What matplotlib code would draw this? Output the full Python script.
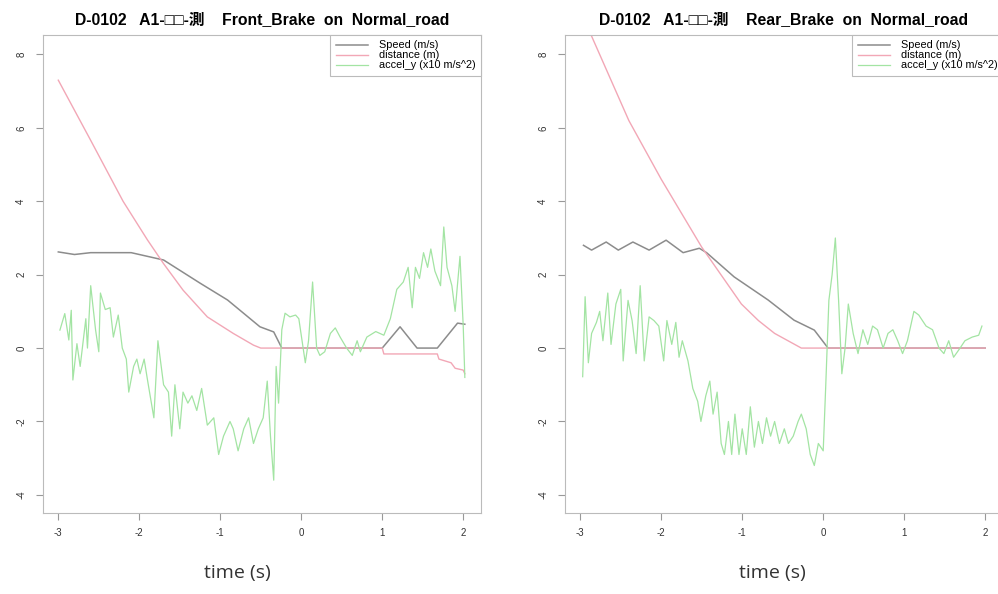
import matplotlib
matplotlib.use("Agg")
import matplotlib.pyplot as plt

plt.rcParams['font.family'] = ['Liberation Sans', 'DejaVu Sans', 'Noto Sans CJK JP']
plt.rcParams['axes.unicode_minus'] = False

titles = ["D-0102   A1-□□-測    Front_Brake  on  Normal_road",
          "D-0102   A1-□□-測    Rear_Brake  on  Normal_road"]
labels = ["Speed (m/s)", "distance (m)", "accel_y (x10 m/s^2)"]

# front brake
f_speed_t = [-3.0, -2.8, -2.6, -2.1, -1.7, -1.25, -0.91, -0.51, -0.34, -0.24,
             1.0, 1.22, 1.43, 1.68, 1.93, 2.02]
f_speed_v = [2.62, 2.55, 2.6, 2.6, 2.4, 1.77, 1.31, 0.58, 0.44, 0.0,
             0.0, 0.58, 0.0, 0.0, 0.68, 0.65]
f_dist_t = [-3.0, -2.6, -2.2, -1.9, -1.7, -1.46, -1.16, -0.84, -0.59, -0.5,
            1.0, 1.02, 1.68, 1.7, 1.85, 1.9, 2.0, 2.02]
f_dist_v = [7.3, 5.66, 4.0, 2.95, 2.3, 1.58, 0.85, 0.4, 0.08, 0.0,
            0.0, -0.16, -0.16, -0.3, -0.4, -0.55, -0.6, -0.7]
f_acc_t = [-2.98, -2.92, -2.87, -2.84, -2.82, -2.77, -2.73, -2.66, -2.64, -2.60,
           -2.54, -2.5, -2.48, -2.42, -2.36, -2.32, -2.26, -2.21, -2.16, -2.13,
           -2.07, -2.03, -1.99, -1.94, -1.9, -1.82, -1.77, -1.7, -1.64, -1.6,
           -1.56, -1.5, -1.46, -1.4, -1.35, -1.29, -1.23, -1.16, -1.08, -1.02,
           -0.96, -0.88, -0.84, -0.78, -0.71, -0.65, -0.59, -0.53, -0.47, -0.42,
           -0.38, -0.34, -0.31, -0.28, -0.24, -0.2, -0.14, -0.07, -0.03, 0.01,
           0.05, 0.09, 0.14, 0.19, 0.23, 0.29, 0.36, 0.42, 0.48, 0.56,
           0.63, 0.69, 0.73, 0.81, 0.92, 1.02, 1.1, 1.18, 1.26, 1.32,
           1.37, 1.41, 1.46, 1.51, 1.56, 1.6, 1.65, 1.72, 1.76, 1.8,
           1.86, 1.9, 1.96, 2.0, 2.02]
f_acc_v = [0.49, 0.94, 0.22, 1.03, -0.87, 0.12, -0.5, 0.8, 0.0, 1.7,
           0.5, -0.1, 1.5, 1.05, 1.1, 0.3, 0.9, 0.0, -0.3, -1.2,
           -0.5, -0.3, -0.7, -0.3, -0.85, -1.9, 0.2, -1.0, -1.2, -2.4,
           -1.0, -2.2, -1.2, -1.5, -1.3, -1.7, -1.1, -2.1, -1.9, -2.9,
           -2.4, -2.0, -2.2, -2.8, -2.2, -1.9, -2.6, -2.2, -1.9, -0.9,
           -2.4, -3.6, -0.5, -1.5, 0.5, 0.95, 0.85, 0.9, 0.8, 0.2,
           -0.4, 0.2, 1.8, 0.0, -0.2, -0.1, 0.4, 0.55, 0.3, 0.0,
           -0.2, 0.2, -0.1, 0.3, 0.45, 0.35, 0.8, 1.6, 1.8, 2.2,
           1.1, 2.2, 1.9, 2.6, 2.2, 2.7, 2.1, 1.7, 3.3, 2.2,
           1.7, 1.0, 2.5, 0.6, -0.8]

# rear brake
r_speed_t = [-2.96, -2.86, -2.68, -2.53, -2.35, -2.15, -1.94, -1.73, -1.53, -1.44,
             -1.1, -0.68, -0.36, -0.11, 0.06, 2.0]
r_speed_v = [2.8, 2.67, 2.89, 2.67, 2.89, 2.67, 2.94, 2.6, 2.72, 2.6,
             1.94, 1.31, 0.76, 0.49, 0.0, 0.0]
r_dist_t = [-3.0, -2.86, -2.4, -2.0, -1.5, -1.01, -0.8, -0.6, -0.27, 2.0]
r_dist_v = [9.1, 8.5, 6.2, 4.6, 2.75, 1.2, 0.75, 0.4, 0.0, 0.0]
r_acc_t = [-2.97, -2.94, -2.9, -2.86, -2.8, -2.76, -2.72, -2.66, -2.62, -2.56,
           -2.5, -2.47, -2.41, -2.36, -2.31, -2.26, -2.21, -2.15, -2.09, -2.03,
           -1.97, -1.93, -1.87, -1.82, -1.78, -1.74, -1.67, -1.61, -1.55, -1.51,
           -1.45, -1.4, -1.36, -1.31, -1.26, -1.22, -1.17, -1.13, -1.09, -1.04,
           -1.0, -0.95, -0.9, -0.85, -0.8, -0.75, -0.7, -0.65, -0.6, -0.54,
           -0.48, -0.43, -0.37, -0.31, -0.27, -0.21, -0.16, -0.11, -0.06, 0.0,
           0.03, 0.07, 0.11, 0.15, 0.19, 0.23, 0.27, 0.31, 0.37, 0.43,
           0.49, 0.55, 0.61, 0.67, 0.74, 0.8, 0.86, 0.92, 0.98, 1.04,
           1.12, 1.18, 1.27, 1.35, 1.43, 1.49, 1.55, 1.61, 1.69, 1.75,
           1.84, 1.92, 1.96]
r_acc_v = [-0.78, 1.4, -0.4, 0.4, 0.7, 1.0, 0.2, 1.5, 0.1, 1.2,
           1.6, -0.35, 1.3, 0.75, -0.15, 1.7, -0.35, 0.85, 0.75, 0.6,
           -0.35, 0.75, 0.1, 0.7, -0.25, 0.2, -0.35, -1.1, -1.45, -2.0,
           -1.3, -0.9, -1.8, -1.2, -2.6, -2.9, -2.0, -2.9, -1.8, -2.9,
           -2.2, -2.9, -1.6, -2.7, -2.0, -2.6, -1.9, -2.4, -2.0, -2.6,
           -2.2, -2.6, -2.4, -2.0, -1.8, -2.2, -2.9, -3.2, -2.6, -2.8,
           -1.1, 1.3, 2.0, 3.0, 1.3, -0.7, 0.0, 1.2, 0.4, -0.15,
           0.5, 0.1, 0.6, 0.5, 0.0, 0.4, 0.5, 0.2, -0.15, 0.2,
           1.0, 0.9, 0.6, 0.5, 0.0, -0.15, 0.2, -0.25, 0.0, 0.2,
           0.3, 0.35, 0.6]

panels = [
    (f_speed_t, f_speed_v, f_dist_t, f_dist_v, f_acc_t, f_acc_v),
    (r_speed_t, r_speed_v, r_dist_t, r_dist_v, r_acc_t, r_acc_v),
]
lefts = [0.043, 0.566]
xlabel_x = [0.238, 0.774]

fig = plt.figure(figsize=(9.98, 5.94), dpi=100)
for i, (st, sv, dt, dv, at, av) in enumerate(panels):
    ax = fig.add_axes([lefts[i], 0.136, 0.439, 0.805])
    ax.plot(st, sv, color='#8c8c8c', lw=1.1, label=labels[0])
    ax.plot(dt, dv, color='#f2a7b6', lw=1.0, label=labels[1])
    ax.plot(at, av, color='#a3e4a3', lw=0.9, label=labels[2])
    ax.set_xlim(-3.19, 2.22)
    ax.set_ylim(-4.5, 8.53)
    ax.set_xticks([-3, -2, -1, 0, 1, 2])
    ax.set_yticks([-4, -2, 0, 2, 4, 6, 8])
    ax.tick_params(colors='#999999', labelcolor='#333333', labelsize=7, length=5)
    ax.tick_params(axis='y', pad=7)
    ax.tick_params(axis='x', pad=6)
    for lab in ax.get_yticklabels():
        lab.set_rotation(90)
        lab.set_va('center')
    for sp in ax.spines.values():
        sp.set_color('#bbbbbb')
    ax.set_title(titles[i], fontsize=11.3, fontweight='bold', pad=8)
    leg = ax.legend(loc='upper right', fontsize=7.8, fancybox=False, borderaxespad=0,
                    handlelength=3.0, handletextpad=1.0, labelspacing=0.0,
                    borderpad=0.5, framealpha=1, edgecolor='#bbbbbb')
    leg.get_frame().set_linewidth(0.8)
    fig.text(xlabel_x[i], 0.027, "time (s)", fontsize=14, ha='center',
             family=['Open Sans', 'DejaVu Sans'], color='#333333')

fig.savefig("out.png", dpi=100)
